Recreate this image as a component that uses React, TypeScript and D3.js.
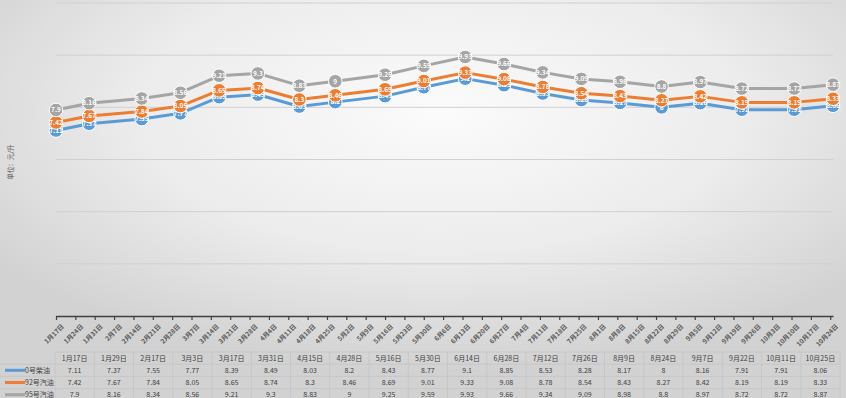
import React from "react";
import * as d3 from "d3";

const year = 2022;

// dates of the price points (month-day)
const pointDates = [
  "1-17", "1-29", "2-17", "3-3", "3-17", "3-31", "4-15", "4-28", "5-16", "5-30",
  "6-14", "6-28", "7-12", "7-26", "8-9", "8-24", "9-7", "9-22", "10-11", "10-25",
];

const diesel0 = [7.11, 7.37, 7.55, 7.77, 8.39, 8.49, 8.03, 8.2, 8.43, 8.77, 9.1, 8.85, 8.53, 8.28, 8.17, 8, 8.16, 7.91, 7.91, 8.06];
const gas92 = [7.42, 7.67, 7.84, 8.05, 8.65, 8.74, 8.3, 8.46, 8.69, 9.01, 9.33, 9.08, 8.78, 8.54, 8.43, 8.27, 8.42, 8.19, 8.19, 8.33];
const gas95 = [7.9, 8.16, 8.34, 8.56, 9.21, 9.3, 8.83, 9, 9.25, 9.59, 9.93, 9.66, 9.34, 9.09, 8.98, 8.8, 8.97, 8.72, 8.72, 8.87];

// weekly axis ticks
const tickDates = [
  "1-17", "1-24", "1-31", "2-7", "2-14", "2-21", "2-28", "3-7", "3-14", "3-21",
  "3-28", "4-4", "4-11", "4-18", "4-25", "5-2", "5-9", "5-16", "5-23", "5-30",
  "6-6", "6-13", "6-20", "6-27", "7-4", "7-11", "7-18", "7-25", "8-1", "8-8",
  "8-15", "8-22", "8-29", "9-5", "9-12", "9-19", "9-26", "10-3", "10-10", "10-17", "10-24",
];

const yTicks = [0, 2, 4, 6, 8, 10, 12];

const series = [
  { name: "0号柴油", values: diesel0, color: "#5b9bd5" },
  { name: "92号汽油", values: gas92, color: "#ed7d31" },
  { name: "95号汽油", values: gas95, color: "#a5a5a5" },
];

const toDate = (s: string) => {
  const [m, d] = s.split("-").map(Number);
  return new Date(year, m - 1, d, 12);
};
const fmt = (s: string) => {
  const [m, d] = s.split("-");
  return `${m}月${d}日`;
};

const W = 846;
const H = 398;
const plot = { left: 56, right: 833, top: 3, bottom: 316 };
const table = { left: 55, right: 840, top: 352, rowH: 12.2, labelW: 55 };
const font = "'Noto Sans CJK SC', 'Noto Sans', sans-serif";

const App: React.FC = () => {
  const axisRef = React.useRef<SVGGElement>(null);

  const dates = pointDates.map(toDate);
  const xScale = d3
    .scaleTime()
    .domain([dates[0], dates[dates.length - 1]])
    .range([plot.left, plot.right]);
  const yScale = d3.scaleLinear().domain([0, 12]).range([plot.bottom, plot.top]);

  const line = d3
    .line<number>()
    .x((_, i) => xScale(dates[i]))
    .y((d) => yScale(d));

  React.useEffect(() => {
    const g = d3.select(axisRef.current);
    g.selectAll("*").remove();
    const axis = d3
      .axisBottom<Date>(xScale)
      .tickValues(tickDates.map(toDate))
      .tickSize(4)
      .tickSizeOuter(0)
      .tickFormat((d, i) => fmt(tickDates[i]));
    g.attr("transform", `translate(0,${plot.bottom})`).call(axis);
    g.select(".domain").attr("stroke", "#404040").attr("stroke-width", 1.5);
    g.selectAll(".tick line").attr("stroke", "#404040").attr("stroke-width", 1.2);
    g.selectAll(".tick text")
      .attr("font-family", font)
      .attr("font-size", 6.5)
      .attr("font-weight", "bold")
      .attr("fill", "#595959")
      .attr("text-anchor", "end")
      .attr("dy", "0")
      .attr("transform", "translate(3,6) rotate(-45)");
  }, []);

  const colW = (table.right - table.left) / pointDates.length;

  return (
    <svg
      width={W}
      height={H}
      style={{ position: "absolute", left: 0, top: 0 }}
      fontFamily={font}
    >
      <defs>
        <radialGradient id="bg" cx="52%" cy="28%" r="65%">
          <stop offset="0%" stopColor="#fbfbfb" />
          <stop offset="55%" stopColor="#ececec" />
          <stop offset="100%" stopColor="#d2d2d2" />
        </radialGradient>
      </defs>
      <rect width={W} height={H} fill="url(#bg)" />

      {/* grid */}
      {yTicks.slice(1).map((t) => (
        <line
          key={t}
          x1={plot.left}
          x2={plot.right}
          y1={yScale(t)}
          y2={yScale(t)}
          stroke="#d0d0d0"
          strokeWidth={1}
        />
      ))}

      <text
        transform={`translate(13,162) rotate(-90)`}
        textAnchor="middle"
        fontSize={6.5}
        fill="#595959"
      >
        单位：元/升
      </text>

      <g ref={axisRef} />

      {/* lines */}
      {series.map((s) => (
        <path
          key={s.name}
          d={line(s.values)!}
          fill="none"
          stroke={s.color}
          strokeWidth={3}
          strokeLinejoin="round"
        />
      ))}

      {/* labels */}
      {series.map((s) => (
        <g key={s.name}>
          {s.values.map((v, i) => (
            <g key={i} transform={`translate(${xScale(dates[i])},${yScale(v)})`}>
              <circle r={6.8} fill={s.color} stroke="#fff" strokeWidth={1} />
              <text
                textAnchor="middle"
                dy="0.35em"
                fontSize={6.5}
                fontWeight="bold"
                fill="#fff"
              >
                {String(v)}
              </text>
            </g>
          ))}
        </g>
      ))}

      {/* data table */}
      <g stroke="#c4c4c4" strokeWidth={0.8}>
        <line x1={table.left} x2={table.right} y1={table.top} y2={table.top} />
        {[1, 2, 3, 4].map((r) => (
          <line
            key={r}
            x1={r === 4 ? 0 : 0}
            x2={table.right}
            y1={table.top + r * table.rowH}
            y2={table.top + r * table.rowH}
          />
        ))}
        {pointDates.map((_, i) => (
          <line
            key={i}
            x1={table.left + i * colW}
            x2={table.left + i * colW}
            y1={table.top}
            y2={H}
          />
        ))}
        <line x1={table.right} x2={table.right} y1={table.top} y2={H} />
      </g>
      <g fontSize={7} fill="#404040" textAnchor="middle">
        {pointDates.map((d, i) => (
          <text key={d} x={table.left + (i + 0.5) * colW} y={table.top + table.rowH * 0.5} dy="0.35em">
            {fmt(d)}
          </text>
        ))}
        {series.map((s, r) =>
          s.values.map((v, i) => (
            <text
              key={`${r}-${i}`}
              x={table.left + (i + 0.5) * colW}
              y={table.top + table.rowH * (r + 1.5)}
              dy="0.35em"
            >
              {String(v)}
            </text>
          ))
        )}
      </g>
      {series.map((s, r) => (
        <g key={s.name} transform={`translate(0,${table.top + table.rowH * (r + 1.5)})`}>
          <line x1={5} x2={25} stroke={s.color} strokeWidth={3} />
          <text x={25} dy="0.35em" fontSize={7} fill="#404040">
            {s.name}
          </text>
        </g>
      ))}
    </svg>
  );
};

export default App;
